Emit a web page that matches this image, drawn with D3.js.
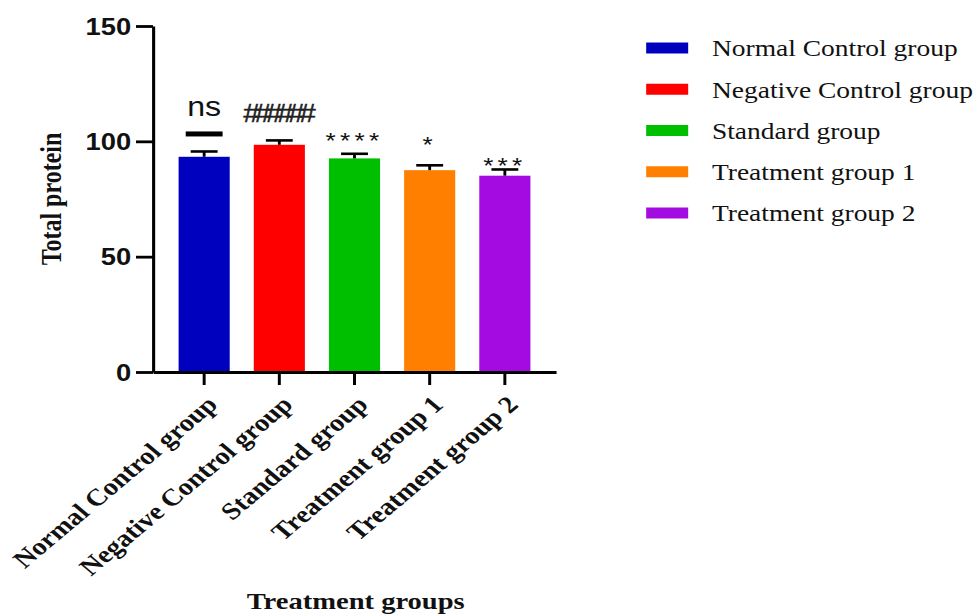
<!DOCTYPE html>
<html>
<head>
<meta charset="utf-8">
<script src="https://cdn.jsdelivr.net/npm/d3@7"></script>
<style>
  html, body { margin: 0; padding: 0; background: #ffffff; }
  svg { display: block; }
</style>
</head>
<body>
<div id="chart"></div>
<script>
// ---- data ----
const categories = ["Normal Control group", "Negative Control group", "Standard group", "Treatment group 1", "Treatment group 2"];
const meanValues = [93.3, 98.5, 92.6, 87.5, 85.1];
const errorValues = [2.3, 1.9, 2.0, 2.1, 2.7];
const barColors = ["#0000BF", "#FF0000", "#00BF00", "#FF8000", "#A30BE0"];
const significanceLabels = ["ns", "######", "****", "*", "***"];
const significanceLevels = [111.0, 108.4, 102.7, 101.0, 91.9];
const yTickValues = [0, 50, 100, 150];
const yAxisTitle = "Total protein";
const xAxisTitle = "Treatment groups";

// ---- layout ----
const W = 979, H = 615;
const stretchX = 1.19; // the reference figure is stretched horizontally
const sans = "'Liberation Sans', Arial, sans-serif";
const serif = "'Liberation Serif', 'Times New Roman', serif";

const svg = d3.select("#chart").append("svg")
  .attr("width", W).attr("height", H);

const g = svg.append("g").attr("transform", `scale(${stretchX},1)`);

const axisX = 128.6, axisEnd = 467.2;
const y = d3.scaleLinear().domain([0, 150]).range([372, 26]);
const x = d3.scaleBand().domain(categories).range([axisX, axisEnd])
  .paddingInner(0.32).paddingOuter(0.34);

// bars
g.selectAll("rect.bar").data(categories).join("rect")
  .attr("class", "bar")
  .attr("x", d => x(d))
  .attr("width", x.bandwidth())
  .attr("y", (d, i) => y(meanValues[i]))
  .attr("height", (d, i) => y(0) - y(meanValues[i]))
  .attr("fill", (d, i) => barColors[i]);

// error bars
const capHalf = 11.3;
const eb = g.selectAll("g.err").data(categories).join("g").attr("class", "err");
eb.append("line")
  .attr("x1", d => x(d) + x.bandwidth() / 2)
  .attr("x2", d => x(d) + x.bandwidth() / 2)
  .attr("y1", (d, i) => y(meanValues[i]))
  .attr("y2", (d, i) => y(meanValues[i] + errorValues[i]))
  .attr("stroke", "#000").attr("stroke-width", 2.4);
eb.append("line")
  .attr("x1", d => x(d) + x.bandwidth() / 2 - capHalf)
  .attr("x2", d => x(d) + x.bandwidth() / 2 + capHalf)
  .attr("y1", (d, i) => y(meanValues[i] + errorValues[i]))
  .attr("y2", (d, i) => y(meanValues[i] + errorValues[i]))
  .attr("stroke", "#000").attr("stroke-width", 2.6);

// y axis
const yAxis = g.append("g").attr("transform", `translate(${axisX},0)`)
  .call(d3.axisLeft(y).tickValues(yTickValues).tickSize(14.3).tickSizeOuter(0).tickPadding(4));
yAxis.select(".domain").attr("stroke", "#000").attr("stroke-width", 2.6);
yAxis.selectAll(".tick line").attr("stroke", "#000").attr("stroke-width", 2.8);
yAxis.selectAll(".tick text")
  .attr("font-family", sans).attr("font-weight", "bold").attr("font-size", 23)
  .attr("fill", "#111").attr("dy", "0.36em");

// x axis
const xAxis = g.append("g").attr("transform", `translate(0,${y(0)})`)
  .call(d3.axisBottom(x).tickSize(13).tickSizeOuter(0));
xAxis.select(".domain").attr("stroke", "#000").attr("stroke-width", 2.8);
xAxis.selectAll(".tick line").attr("stroke", "#000").attr("stroke-width", 2.5);
xAxis.selectAll(".tick text")
  .attr("font-family", serif).attr("font-weight", "bold").attr("font-size", 24)
  .attr("fill", "#111")
  .attr("x", 0).attr("y", 0).attr("dy", 0)
  .attr("text-anchor", "end")
  .attr("transform", "translate(12.5,34) rotate(-45)");

// significance annotations
significanceLabels.forEach((lab, i) => {
  const cx = x(categories[i]) + x.bandwidth() / 2;
  if (lab === "ns") {
    g.append("text").attr("x", cx).attr("y", y(significanceLevels[i]))
      .attr("text-anchor", "middle").attr("font-family", sans).attr("font-size", 27)
      .attr("fill", "#111").text(lab);
    g.append("rect").attr("x", cx - 15.5).attr("width", 31)
      .attr("y", y(103.2) - 2.5).attr("height", 5).attr("fill", "#000");
  } else if (lab.startsWith("#")) {
    g.append("text").attr("x", cx - 2).attr("y", y(significanceLevels[i]))
      .attr("text-anchor", "middle").attr("font-family", sans).attr("font-size", 25)
      .attr("letter-spacing", -4.5)
      .attr("fill", "#222").attr("stroke", "#222").attr("stroke-width", 0.4).text(lab);
  } else {
    g.append("text").attr("x", cx).attr("y", y(significanceLevels[i]) + 12.5)
      .attr("text-anchor", "middle").attr("font-family", sans).attr("font-size", 22)
      .attr("letter-spacing", 3.6)
      .attr("fill", "#111").text(lab);
  }
});

// axis titles
g.append("text")
  .attr("transform", `translate(51.5,199) rotate(-90)`)
  .attr("text-anchor", "middle").attr("font-family", serif).attr("font-weight", "bold")
  .attr("font-size", 24).attr("fill", "#111").text(yAxisTitle);
g.append("text")
  .attr("x", (axisX + axisEnd) / 2 + 1).attr("y", 609)
  .attr("text-anchor", "middle").attr("font-family", serif).attr("font-weight", "bold")
  .attr("font-size", 24).attr("fill", "#111").text(xAxisTitle);

// legend
const legendY = d3.scalePoint().domain(categories).range([48, 213]);
const lg = g.selectAll("g.leg").data(categories).join("g").attr("class", "leg")
  .attr("transform", d => `translate(543,${legendY(d)})`);
lg.append("rect").attr("x", 0).attr("y", -5.5).attr("width", 35.3).attr("height", 11)
  .attr("fill", (d, i) => barColors[i]);
lg.append("text").attr("x", 55.3).attr("y", 8.3)
  .attr("font-family", serif).attr("font-size", 23.1).attr("fill", "#111")
  .text(d => d);
</script>
</body>
</html>
